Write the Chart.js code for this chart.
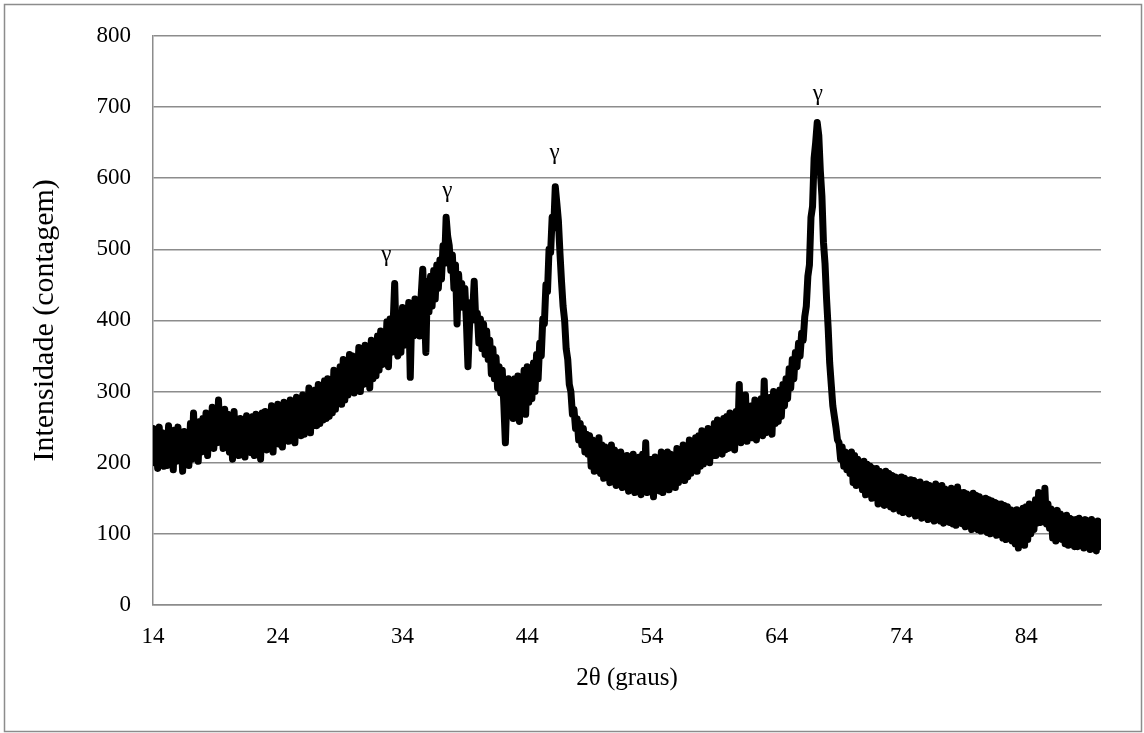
<!DOCTYPE html>
<html>
<head>
<meta charset="utf-8">
<script src="https://cdn.jsdelivr.net/npm/chart.js@4/dist/chart.umd.min.js"></script>
<style>
  html, body { margin: 0; padding: 0; background: #ffffff; }
  #wrap { width: 1144px; height: 733px; }
</style>
</head>
<body>
<div id="wrap"><canvas id="c" width="1144" height="733"></canvas></div>
<script>
// 2θ scan positions (degrees)
const twoTheta = [
  14,14.125,14.25,14.375,14.5,14.625,14.75,14.875,
  15,15.125,15.25,15.375,15.5,15.625,15.75,15.875,
  16,16.125,16.25,16.375,16.5,16.625,16.75,16.875,
  17,17.125,17.25,17.375,17.5,17.625,17.75,17.875,
  18,18.125,18.25,18.375,18.5,18.625,18.75,18.875,
  19,19.125,19.25,19.375,19.5,19.625,19.75,19.875,
  20,20.125,20.25,20.375,20.5,20.625,20.75,20.875,
  21,21.125,21.25,21.375,21.5,21.625,21.75,21.875,
  22,22.125,22.25,22.375,22.5,22.625,22.75,22.875,
  23,23.125,23.25,23.375,23.5,23.625,23.75,23.875,
  24,24.125,24.25,24.375,24.5,24.625,24.75,24.875,
  25,25.125,25.25,25.375,25.5,25.625,25.75,25.875,
  26,26.125,26.25,26.375,26.5,26.625,26.75,26.875,
  27,27.125,27.25,27.375,27.5,27.625,27.75,27.875,
  28,28.125,28.25,28.375,28.5,28.625,28.75,28.875,
  29,29.125,29.25,29.375,29.5,29.625,29.75,29.875,
  30,30.125,30.25,30.375,30.5,30.625,30.75,30.875,
  31,31.125,31.25,31.375,31.5,31.625,31.75,31.875,
  32,32.125,32.25,32.375,32.5,32.625,32.75,32.875,
  33,33.125,33.25,33.375,33.5,33.625,33.75,33.875,
  34,34.125,34.25,34.375,34.5,34.625,34.75,34.875,
  35,35.125,35.25,35.375,35.5,35.625,35.75,35.875,
  36,36.125,36.25,36.375,36.5,36.625,36.75,36.875,
  37,37.125,37.25,37.375,37.5,37.625,37.75,37.875,
  38,38.125,38.25,38.375,38.5,38.625,38.75,38.875,
  39,39.125,39.25,39.375,39.5,39.625,39.75,39.875,
  40,40.125,40.25,40.375,40.5,40.625,40.75,40.875,
  41,41.125,41.25,41.375,41.5,41.625,41.75,41.875,
  42,42.125,42.25,42.375,42.5,42.625,42.75,42.875,
  43,43.125,43.25,43.375,43.5,43.625,43.75,43.875,
  44,44.125,44.25,44.375,44.5,44.625,44.75,44.875,
  45,45.125,45.25,45.375,45.5,45.625,45.75,45.875,
  46,46.125,46.25,46.375,46.5,46.625,46.75,46.875,
  47,47.125,47.25,47.375,47.5,47.625,47.75,47.875,
  48,48.125,48.25,48.375,48.5,48.625,48.75,48.875,
  49,49.125,49.25,49.375,49.5,49.625,49.75,49.875,
  50,50.125,50.25,50.375,50.5,50.625,50.75,50.875,
  51,51.125,51.25,51.375,51.5,51.625,51.75,51.875,
  52,52.125,52.25,52.375,52.5,52.625,52.75,52.875,
  53,53.125,53.25,53.375,53.5,53.625,53.75,53.875,
  54,54.125,54.25,54.375,54.5,54.625,54.75,54.875,
  55,55.125,55.25,55.375,55.5,55.625,55.75,55.875,
  56,56.125,56.25,56.375,56.5,56.625,56.75,56.875,
  57,57.125,57.25,57.375,57.5,57.625,57.75,57.875,
  58,58.125,58.25,58.375,58.5,58.625,58.75,58.875,
  59,59.125,59.25,59.375,59.5,59.625,59.75,59.875,
  60,60.125,60.25,60.375,60.5,60.625,60.75,60.875,
  61,61.125,61.25,61.375,61.5,61.625,61.75,61.875,
  62,62.125,62.25,62.375,62.5,62.625,62.75,62.875,
  63,63.125,63.25,63.375,63.5,63.625,63.75,63.875,
  64,64.125,64.25,64.375,64.5,64.625,64.75,64.875,
  65,65.125,65.25,65.375,65.5,65.625,65.75,65.875,
  66,66.125,66.25,66.375,66.5,66.625,66.75,66.875,
  67,67.125,67.25,67.375,67.5,67.625,67.75,67.875,
  68,68.125,68.25,68.375,68.5,68.625,68.75,68.875,
  69,69.125,69.25,69.375,69.5,69.625,69.75,69.875,
  70,70.125,70.25,70.375,70.5,70.625,70.75,70.875,
  71,71.125,71.25,71.375,71.5,71.625,71.75,71.875,
  72,72.125,72.25,72.375,72.5,72.625,72.75,72.875,
  73,73.125,73.25,73.375,73.5,73.625,73.75,73.875,
  74,74.125,74.25,74.375,74.5,74.625,74.75,74.875,
  75,75.125,75.25,75.375,75.5,75.625,75.75,75.875,
  76,76.125,76.25,76.375,76.5,76.625,76.75,76.875,
  77,77.125,77.25,77.375,77.5,77.625,77.75,77.875,
  78,78.125,78.25,78.375,78.5,78.625,78.75,78.875,
  79,79.125,79.25,79.375,79.5,79.625,79.75,79.875,
  80,80.125,80.25,80.375,80.5,80.625,80.75,80.875,
  81,81.125,81.25,81.375,81.5,81.625,81.75,81.875,
  82,82.125,82.25,82.375,82.5,82.625,82.75,82.875,
  83,83.125,83.25,83.375,83.5,83.625,83.75,83.875,
  84,84.125,84.25,84.375,84.5,84.625,84.75,84.875,
  85,85.125,85.25,85.375,85.5,85.625,85.75,85.875,
  86,86.125,86.25,86.375,86.5,86.625,86.75,86.875,
  87,87.125,87.25,87.375,87.5,87.625,87.75,87.875,
  88,88.125,88.25,88.375,88.5,88.625,88.75,88.875,
  89,89.125,89.25,89.375,89.5,89.625,89.75,89.875,
  90
];

// Intensity (counts)
const intensity = [
  248,200,236,192,250,210,242,195,   // 14
  238,196,252,205,230,190,246,202,   // 15
  250,208,235,188,244,200,238,196,   // 16
  255,205,270,212,248,202,258,215,   // 17
  262,218,270,210,265,222,278,220,   // 18
  270,228,288,232,262,220,275,226,   // 19
  268,215,260,205,272,222,258,210,   // 20
  262,212,255,208,266,218,252,214,   // 21
  265,210,268,220,258,205,270,222,   // 22
  272,218,265,225,280,215,270,228,   // 23
  282,226,270,222,285,232,276,230,   // 24
  288,235,280,228,292,240,285,238,   // 25
  295,240,288,250,305,242,292,252,   // 26
  302,252,310,255,298,260,315,262,   // 27
  318,265,312,270,330,275,322,285,   // 28
  335,282,345,288,330,295,352,300,   // 29
  350,298,345,302,362,300,355,310,   // 30
  365,312,358,305,372,318,368,322,   // 31
  378,330,385,338,375,345,398,335,   // 32
  402,355,395,452,368,350,410,355,   // 33
  418,365,412,372,425,320,415,378,   // 34
  430,385,422,378,435,472,420,355,   // 35
  455,412,462,420,470,430,478,445,   // 36
  485,458,505,480,545,518,505,470,   // 37
  492,445,478,395,465,428,452,418,   // 38
  445,398,335,392,425,412,455,400,   // 39
  410,368,402,360,395,352,385,345,   // 40
  372,325,360,318,348,305,335,298,   // 41
  330,282,228,295,318,270,305,262,   // 42
  318,265,322,258,315,272,330,268,   // 43
  335,285,328,290,340,300,352,318,   // 44
  368,350,402,395,450,440,500,495,   // 45
  545,530,588,565,540,495,455,420,   // 46
  400,360,345,310,300,268,275,248,   // 47
  262,232,255,225,248,215,240,212,   // 48
  238,195,232,188,228,198,235,185,   // 49
  225,178,222,182,218,172,225,175,   // 50
  218,168,212,175,215,165,208,170,   // 51
  210,160,205,168,212,158,202,165,   // 52
  208,155,212,162,228,158,205,160,   // 53
  205,152,208,165,200,160,215,158,   // 54
  210,168,215,162,212,170,208,165,   // 55
  220,172,218,178,225,175,222,180,   // 56
  232,185,228,190,235,188,238,195,   // 57
  245,198,240,205,248,200,242,210,   // 58
  255,210,260,215,252,212,262,218,   // 59
  265,220,270,225,262,218,272,230,   // 60
  310,228,275,232,295,230,268,235,   // 61
  280,235,288,232,275,240,290,238,   // 62
  315,242,285,248,292,240,300,255,   // 63
  295,258,302,265,310,280,318,290,   // 64
  332,305,345,318,355,335,368,350,   // 65
  382,372,405,420,462,478,545,560,   // 66
  628,650,678,660,610,575,510,480,   // 67
  430,390,340,310,280,265,250,232,   // 68
  228,205,222,195,215,190,212,185,   // 69
  215,172,210,168,205,175,200,162,   // 70
  202,155,198,160,195,150,192,155,   // 71
  192,142,188,148,185,140,188,145,   // 72
  185,138,182,135,180,142,178,132,   // 73
  180,130,178,136,175,128,176,132,   // 74
  175,125,172,130,173,122,168,128,   // 75
  170,120,168,124,165,118,170,122,   // 76
  166,118,168,115,163,120,160,116,   // 77
  164,114,160,112,166,116,158,114,   // 78
  158,110,156,112,154,106,157,110,   // 79
  154,106,152,104,148,108,150,102,   // 80
  148,100,146,102,144,98,142,100,    // 81
  142,94,140,92,138,96,134,90,       // 82
  132,86,134,80,130,88,136,84,       // 83
  138,92,142,100,136,106,148,115,    // 84
  158,116,152,122,164,114,142,108,   // 85
  135,94,130,90,133,96,128,92,       // 86
  124,86,126,84,122,88,120,82,       // 87
  120,82,122,84,118,80,120,82,       // 88
  118,78,120,80,115,76,118,82,       // 89
  100                                // 90
];

// Axis ticks
const xTickValues = [14, 24, 34, 44, 54, 64, 74, 84];
const yTickValues = [0, 100, 200, 300, 400, 500, 600, 700, 800];

// Peak annotations (γ phase)
const gammaText = ['γ', 'γ', 'γ', 'γ'];
const gammaX = [32.7, 37.6, 46.2, 67.3];
const gammaY = [492, 582, 636, 718];

const FONT = "'Liberation Serif', 'Times New Roman', serif";
const GRID = '#8c8c8c';

const points = twoTheta.map((t, i) => ({ x: t, y: intensity[i] }));

const gammaPlugin = {
  id: 'gamma',
  afterDatasetsDraw(chart) {
    const { ctx, scales: { x, y } } = chart;
    ctx.save();
    ctx.fillStyle = '#000';
    ctx.font = '23px ' + FONT;
    ctx.textAlign = 'center';
    ctx.textBaseline = 'middle';
    gammaText.forEach((t, i) => {
      ctx.fillText(t, x.getPixelForValue(gammaX[i]), y.getPixelForValue(gammaY[i]));
    });
    ctx.restore();
  }
};

const framePlugin = {
  id: 'frame',
  beforeDraw(chart) {
    const { ctx } = chart;
    ctx.save();
    ctx.fillStyle = '#fff';
    ctx.fillRect(0, 0, chart.width, chart.height);
    ctx.strokeStyle = '#8c8c8c';
    ctx.lineWidth = 1.5;
    ctx.strokeRect(4.5, 4.5, 1137, 727);
    ctx.restore();
  }
};

new Chart(document.getElementById('c'), {
  type: 'line',
  data: {
    datasets: [{
      data: points,
      borderColor: '#000',
      borderWidth: 7,
      pointRadius: 0,
      tension: 0,
      borderJoinStyle: 'round',
      borderCapStyle: 'round',
      fill: false
    }]
  },
  options: {
    responsive: false,
    animation: false,
    parsing: false,
    layout: { padding: { left: 0, top: 33, right: 43, bottom: 0 } },
    plugins: { legend: { display: false }, tooltip: { enabled: false } },
    scales: {
      x: {
        type: 'linear',
        min: 14,
        max: 90,
        afterBuildTicks(scale) { scale.ticks = xTickValues.map(v => ({ value: v })); },
        afterFit(scale) { scale.height = 128; },
        grid: { display: false, drawTicks: false },
        border: { display: true, color: GRID, width: 1.5 },
        ticks: {
          color: '#000',
          font: { family: FONT, size: 23 },
          padding: 18,
          maxRotation: 0,
          autoSkip: false,
          callback: v => String(v)
        },
        title: {
          display: true,
          text: '2θ (graus)',
          color: '#000',
          font: { family: FONT, size: 25 },
          padding: { top: 0, bottom: 40 }
        }
      },
      y: {
        type: 'linear',
        min: 0,
        max: 800,
        afterBuildTicks(scale) { scale.ticks = yTickValues.map(v => ({ value: v })); },
        afterFit(scale) { scale.width = 153; },
        grid: { color: GRID, lineWidth: 1.5, drawTicks: false },
        border: { display: true, color: GRID, width: 1.5 },
        ticks: {
          color: '#000',
          font: { family: FONT, size: 23 },
          padding: 22,
          callback: v => String(v)
        },
        title: {
          display: true,
          text: 'Intensidade (contagem)',
          color: '#000',
          font: { family: FONT, size: 30 },
          padding: { top: 27, bottom: 0 }
        }
      }
    }
  },
  plugins: [framePlugin, gammaPlugin]
});
</script>
</body>
</html>
